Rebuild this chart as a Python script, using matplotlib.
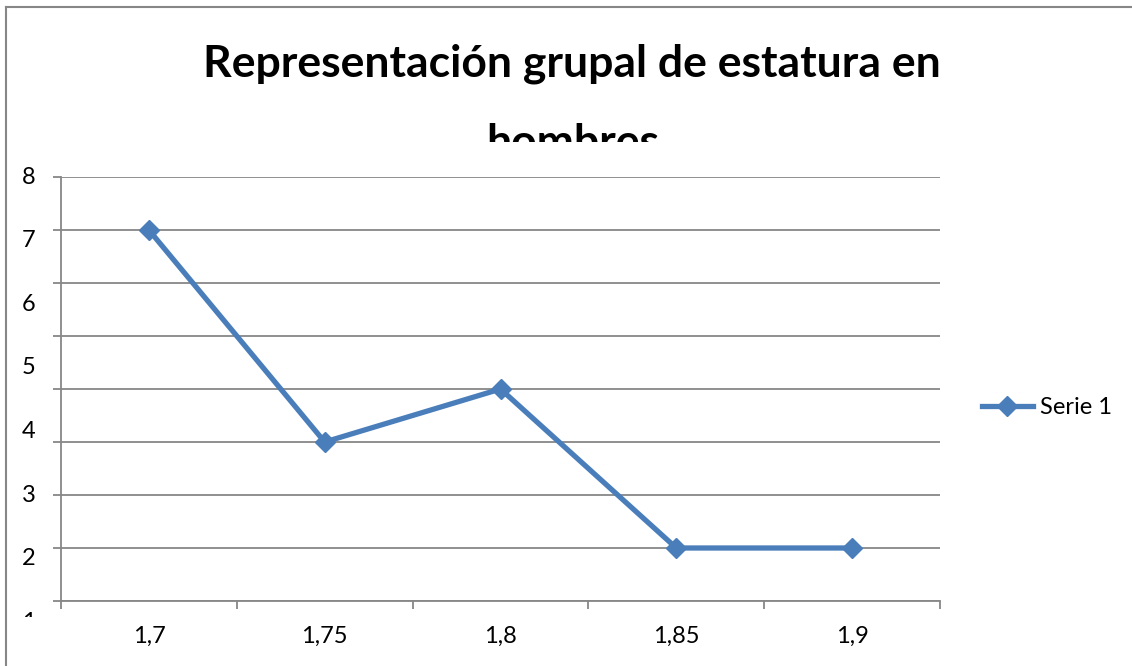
import matplotlib.pyplot as plt
import matplotlib as mpl
from matplotlib.lines import Line2D
from matplotlib.patches import Rectangle

mpl.rcParams['font.family'] = ['Lato', 'DejaVu Sans']

# estatura (m) y cantidad de hombres
estaturas = ["1,7", "1,75", "1,8", "1,85", "1,9"]
cantidad = [7, 3, 4, 1, 1]
etiquetas_y = [8, 7, 6, 5, 4, 3, 2, 1]

azul = '#4a7ebb'
gris = '#878787'

W, H = 1132, 666
fig = plt.figure(figsize=(W / 100, H / 100), dpi=100)
fig.patch.set_facecolor('white')

# marco exterior del grafico
fig.add_artist(Line2D([5.5 / W, 5.5 / W], [0, 1 - 6.5 / H], transform=fig.transFigure, color=gris, lw=1.5))
fig.add_artist(Line2D([5.5 / W, 1], [1 - 6.5 / H, 1 - 6.5 / H], transform=fig.transFigure, color=gris, lw=1.5))

ax = fig.add_axes([61 / W, 1 - 601 / H, (940 - 61) / W, (601 - 177) / H])
x = list(range(len(estaturas)))
ax.plot(x, cantidad, color=azul, lw=3.8, marker='D', ms=10.5, mec=azul, mew=1, label='Serie 1', zorder=3)

ax.set_xlim(-0.5, len(estaturas) - 0.5)
ax.set_ylim(0, 8)
ax.set_yticks(range(0, 9))
ax.set_yticklabels([])
ax.grid(axis='y', color=gris, lw=1.3)
ax.set_axisbelow(True)

ax.set_xticks([i - 0.5 for i in range(len(estaturas) + 1)])
ax.set_xticklabels([])
ax.set_xticks(x, minor=True)
ax.set_xticklabels(estaturas, minor=True, fontsize=17)
ax.tick_params(which='major', length=6, width=1.3, color=gris, direction='out')
ax.tick_params(which='minor', length=0, pad=18)

for lado in ['top', 'right']:
    ax.spines[lado].set_visible(False)
for lado in ['left', 'bottom']:
    ax.spines[lado].set_color(gris)
    ax.spines[lado].set_linewidth(1.3)

# numeros del eje vertical, recortados abajo
corte_y = Rectangle((0, 1 - 617 / H), 1, 1, transform=fig.transFigure)
trans_y = mpl.transforms.blended_transform_factory(fig.transFigure, ax.transData)
for v in etiquetas_y:
    t = ax.text(29 / W, 8 - (8 - v) * 1.2, str(v), fontsize=17, ha='center', va='center',
                transform=trans_y)
    t.set_clip_on(True)
    t.set_clip_path(corte_y)

# titulo en dos lineas, la segunda queda cortada
fig.text(572 / W, 1 - 77 / H, 'Representación grupal de estatura en', fontsize=32,
         fontweight='bold', ha='center', va='baseline')
corte_t = Rectangle((0, 1 - 142 / H), 1, 1, transform=fig.transFigure)
t2 = fig.text(573 / W, 1 - 156 / H, 'hombres', fontsize=32, fontweight='bold',
              ha='center', va='baseline')
t2.set_clip_path(corte_t)

fig.legend(loc='center left', bbox_to_anchor=(982 / W, 1 - 408 / H), frameon=False,
           fontsize=17, handlelength=2.15, handletextpad=0.3, borderpad=0, borderaxespad=0)

fig.savefig('out.png', dpi=100)
